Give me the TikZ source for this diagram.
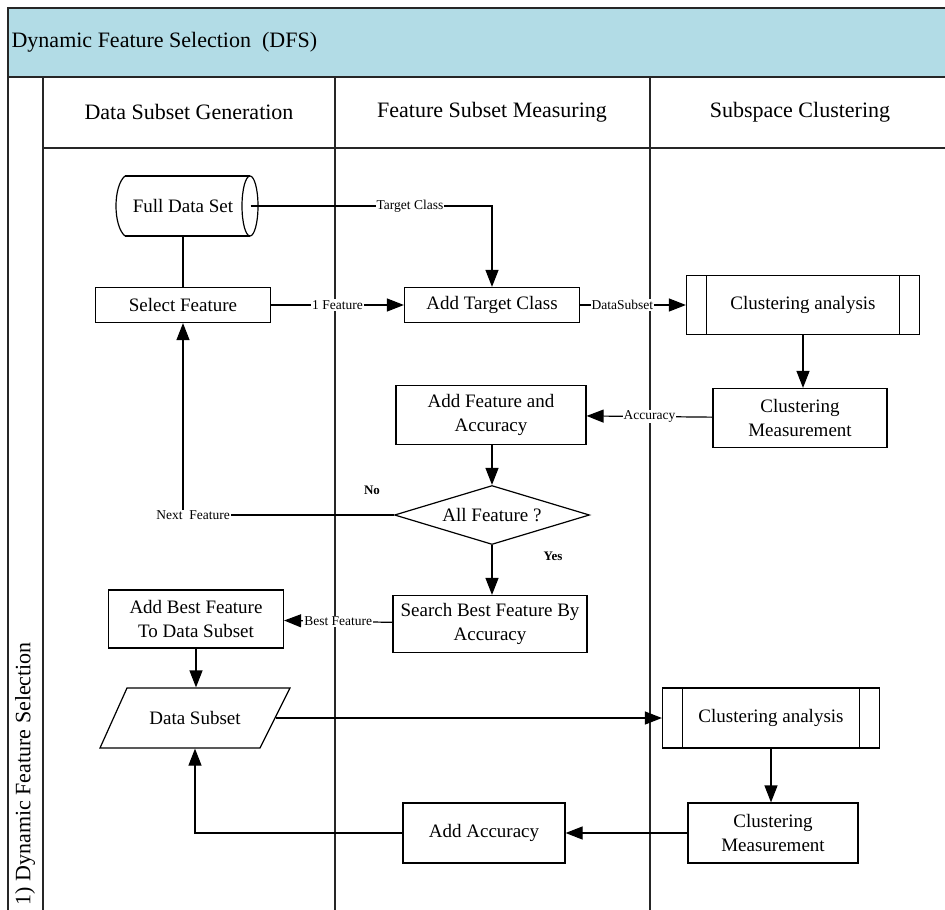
\documentclass[tikz,border=0pt]{standalone}
\usepackage{fontspec}
\setmainfont{Liberation Serif}
\usetikzlibrary{shapes.geometric,arrows.meta}
\definecolor{hdr}{RGB}{178,220,230}
\begin{document}
\begin{tikzpicture}[x=1pt,y=-1pt,
  line width=1.2pt,
  box/.style={draw, line width=1.2pt, rectangle, align=center, inner sep=0pt,
    font=\fontsize{19}{24}\selectfont},
  txt/.style={align=center, inner sep=0pt, font=\fontsize{19}{24}\selectfont},
  proc/.style={box, path picture={
    \draw[line width=1.2pt] ([xshift=20pt]path picture bounding box.north west) -- ([xshift=20pt]path picture bounding box.south west);
    \draw[line width=1.2pt] ([xshift=-20pt]path picture bounding box.north east) -- ([xshift=-20pt]path picture bounding box.south east);}},
  lbl/.style={font=\fontsize{13.5}{15}\selectfont, fill=white, inner sep=1pt},
  yn/.style={font=\bfseries\fontsize{13}{15}\selectfont},
  flow/.style={-{Triangle[length=17pt,width=13pt]}},
  lane/.style={draw=black!85, line width=1.5pt},
  head/.style={font=\fontsize{22}{24}\selectfont}
]
\useasboundingbox (0,0) rectangle (945,910);
% swimlane frame
\fill[hdr] (8,8) rectangle (945,77);
\draw[lane] (945,8) -- (8,8) -- (8,910);
\draw[lane] (8,77) -- (945,77);
\draw[lane] (43,77) -- (43,910);
\draw[lane] (43,148) -- (945,148);
\draw[lane] (335,77) -- (335,910);
\draw[lane] (650,77) -- (650,910);
\node[head, anchor=west, inner sep=0pt] (title) at (11,42) {Dynamic Feature Selection\ \ (DFS)};
\node[head] (h1) at (189,112) {Data Subset Generation};
\node[head] (h2) at (492,112) {Feature Subset Measuring};
\node[head] (h3) at (800,112) {Subspace Clustering};
\node[head, rotate=90, anchor=west, inner sep=0pt] (side) at (25,906) {1) Dynamic Feature Selection};

% nodes
\node[txt, minimum width=134pt, minimum height=60pt] (full) at (183,206) {Full Data Set};
\draw (125,176) -- (250,176) (125,236) -- (250,236);
\draw (125,176) .. controls (113,186) and (113,226) .. (125,236);
\draw (250,206) ellipse [x radius=8, y radius=30];
\node[box, minimum width=175pt, minimum height=35pt] (sel) at (183,305) {Select Feature};
\node[box, minimum width=175pt, minimum height=35pt] (atc) at (492,305) {Add Target Class};
\node[proc, minimum width=233pt, minimum height=59pt] (ca1) at (803,305) {Clustering analysis};
\node[box, minimum width=174pt, minimum height=59pt] (cm1) at (800,418) {Clustering\\Measurement};
\node[box, minimum width=190pt, minimum height=59pt] (afa) at (491,415) {Add Feature and\\Accuracy};
\node[box, diamond, aspect=3.3, minimum width=195pt, minimum height=59pt] (all) at (492,515) {All Feature ?};
\node[box, minimum width=194pt, minimum height=57pt] (sbf) at (490,624) {Search Best Feature By\\Accuracy};
\node[box, minimum width=175pt, minimum height=58pt] (abf) at (196,619) {Add Best Feature\\To Data Subset};
\node[txt, minimum width=160pt, minimum height=60pt] (ds) at (195,718) {Data Subset};
\draw (127,688) -- (290,688) -- (260,748) -- (100,748) -- cycle;
\node[proc, minimum width=217pt, minimum height=60pt] (ca2) at (771,718) {Clustering analysis};
\node[box, minimum width=170pt, minimum height=60pt] (cm2) at (773,833) {Clustering\\Measurement};
\node[box, minimum width=162pt, minimum height=60pt] (aa) at (484,833) {Add Accuracy};
\node[yn] (no) at (372,490) {No};
\node[yn] (yes) at (553,556) {Yes};

% connectors
\draw (sel.north) -- (full.south);
\draw[flow] (full.east) -| node[lbl, pos=0.33] {Target Class} (atc.north);
\draw[flow] (sel) -- node[lbl] {1 Feature} (atc);
\draw[flow] (atc) -- node[lbl, pos=0.4] {DataSubset} (ca1);
\draw[flow] (ca1.south) -- (ca1.south |- cm1.north);
\draw[flow] (cm1) -- node[lbl] {Accuracy} (afa);
\draw[flow] (all.north |- afa.south) -- (all.north);
\draw[flow] (all.west) -| node[lbl, pos=0.5, xshift=10pt] {Next\ \ Feature} (sel.south);
\draw[flow] (all.south) -- (all.south |- sbf.north);
\draw[flow] (sbf) -- node[lbl] {Best Feature} (abf);
\draw[flow] (abf.south) -- (abf.south |- ds.north);
\draw[flow] (ds.east) -- (ca2.west);
\draw[flow] (ca2.south) -- (ca2.south |- cm2.north);
\draw[flow] (cm2) -- (aa);
\draw[flow] (aa.west) -| (ds.south);
\end{tikzpicture}
\end{document}
